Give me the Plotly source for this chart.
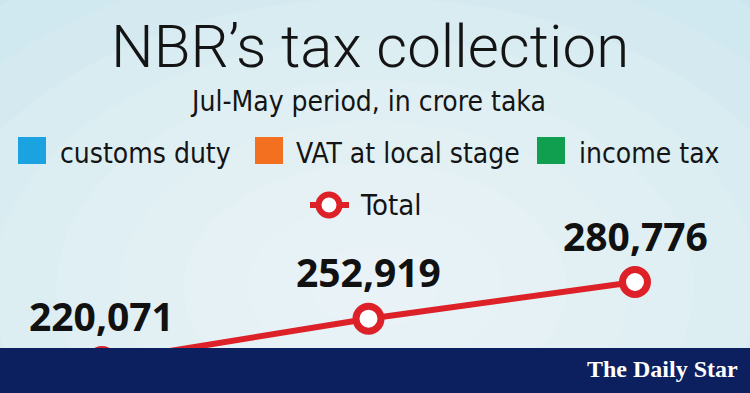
import plotly.graph_objects as go

# ---- data ----
periods = ["Period 1", "Period 2", "Period 3"]
totals = [220071, 252919, 280776]
total_labels = ["220,071", "252,919", "280,776"]
legend_names = ["customs duty", "VAT at local stage", "income tax"]
legend_colors = ["#1ba3e1", "#f37021", "#109f4e"]
title_text = "NBR\u2019s tax collection"
subtitle_text = "Jul-May period, in crore taka"
brand_text = "The Daily Star"

W, H = 750, 393
RED = "#dd2128"
NAVY = "#0c1f5f"
NARROW = "DejaVu Sans Condensed, sans-serif"

def px(x):
    return x / W

def py(y):
    return 1 - y / H

fig = go.Figure()

fig.add_trace(go.Scatter(
    x=list(range(len(periods))), y=totals, mode="lines+markers",
    name="Total", showlegend=False, hoverinfo="skip",
    line=dict(color=RED, width=6),
    marker=dict(size=25, color="white", line=dict(color=RED, width=7)),
    cliponaxis=False,
))

shapes = []
# radial-ish background glow
n = 10
for i in range(n):
    f = 1 - i / n
    rx = 0.85 * f
    ry = 1.05 * f
    cx, cy = 0.5, 0.27
    shapes.append(dict(type="circle", xref="paper", yref="paper",
                       x0=cx - rx, x1=cx + rx, y0=cy - ry, y1=cy + ry,
                       fillcolor="white", opacity=0.1, line=dict(width=0), layer="below"))

annotations = []
# title & subtitle
annotations.append(dict(text=title_text, x=px(370), y=py(46), xref="paper", yref="paper",
                        showarrow=False, xanchor="center", yanchor="middle",
                        font=dict(family="Roboto, sans-serif", size=60, color="#141414", weight=300)))
annotations.append(dict(text=subtitle_text, x=px(368), y=py(101), xref="paper", yref="paper",
                        showarrow=False, xanchor="center", yanchor="middle",
                        font=dict(family=NARROW, size=28, color="#141414")))

# legend squares + labels
sq_x = [18, 255, 537]
tx_x = [58, 294, 577]
for name, col, sx, tx in zip(legend_names, legend_colors, sq_x, tx_x):
    shapes.append(dict(type="rect", xref="paper", yref="paper",
                       x0=px(sx), x1=px(sx + 28), y0=py(164), y1=py(137),
                       fillcolor=col, line=dict(width=0), layer="above"))
    annotations.append(dict(text=name, x=px(tx), y=py(153), xref="paper", yref="paper",
                            showarrow=False, xanchor="left", yanchor="middle",
                            font=dict(family=NARROW, size=28, color="#141414")))

# Total legend
shapes.append(dict(type="line", xref="paper", yref="paper", x0=px(310), x1=px(349),
                   y0=py(205), y1=py(205), line=dict(color=RED, width=6), layer="above"))
shapes.append(dict(type="circle", xref="paper", yref="paper",
                   x0=px(329 - 10.5), x1=px(329 + 10.5), y0=py(205 + 10.5), y1=py(205 - 10.5),
                   fillcolor="white", line=dict(color=RED, width=6), layer="above"))
annotations.append(dict(text="Total", x=px(358), y=py(205), xref="paper", yref="paper",
                        showarrow=False, xanchor="left", yanchor="middle",
                        font=dict(family=NARROW, size=29, color="#141414")))

# value labels
for i, (v, lab) in enumerate(zip(totals, total_labels)):
    annotations.append(dict(text="<b>" + lab + "</b>", x=i, y=v, xref="x", yref="y",
                            showarrow=False, xanchor="center", yanchor="middle", yshift=47,
                            font=dict(family="Open Sans, sans-serif", size=39, color="#111111")))

# bottom brand bar
shapes.append(dict(type="rect", xref="paper", yref="paper", x0=0, x1=1, y0=0, y1=py(348),
                   fillcolor=NAVY, line=dict(width=0), layer="above"))
annotations.append(dict(text="<b>" + brand_text + "</b>", x=px(662), y=py(369), xref="paper", yref="paper",
                        showarrow=False, xanchor="center", yanchor="middle",
                        font=dict(family="Liberation Serif, serif", size=24, color="white")))

fig.update_layout(
    width=W, height=H, margin=dict(l=0, r=0, t=0, b=0),
    paper_bgcolor="#c6e4ed", plot_bgcolor="rgba(0,0,0,0)",
    showlegend=False,
    xaxis=dict(range=[-0.3827, 2.4315], visible=False, fixedrange=True),
    yaxis=dict(range=[196547, 494769], visible=False, fixedrange=True),
    shapes=shapes, annotations=annotations,
)

fig.write_html("out.html")
